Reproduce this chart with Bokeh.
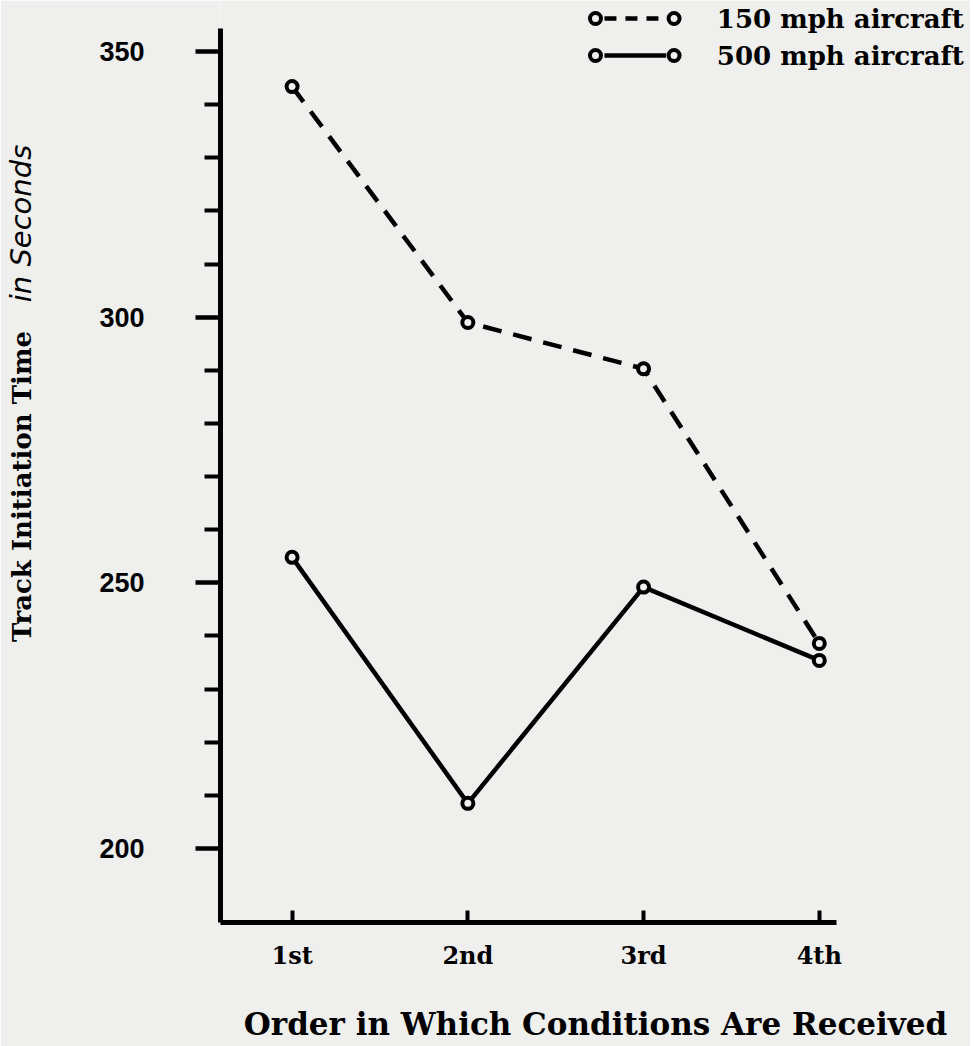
from bokeh.plotting import figure
from bokeh.models import Range1d, FixedTicker, Label, LinearAxis
from bokeh.embed import file_html
from bokeh.resources import INLINE

# ---- data ----
order_pos = [1, 2, 3, 4]
order_labels = ["1st", "2nd", "3rd", "4th"]
time_150 = [343.4, 299.0, 290.3, 238.6]
time_500 = [254.8, 208.5, 249.2, 235.4]
y_major = [200, 250, 300, 350]
y_minor = [210, 220, 230, 240, 260, 270, 280, 290, 310, 320, 330, 340]
series_names = ["150 mph aircraft", "500 mph aircraft"]
x_title = "Order in Which Conditions Are Received"
y_title_typed = "Track Initiation Time"
y_title_hand = "in Seconds"

# ---- layout ----
W, H = 970, 1046
BL = 216
BB = H - 922
FW, FH = W - BL, H - BB
BG = "#efefed"
X0, X1 = 0.5925, 4.8604
Y0, Y1 = 186.07, 359.61


def fx(px):
    return X0 + (px - BL) * (X1 - X0) / FW


def fy(py):
    return Y1 - py * (Y1 - Y0) / FH


p = figure(width=W, height=H, x_range=Range1d(X0, X1), y_range=Range1d(Y0, Y1),
           output_backend="svg", toolbar_location=None,
           min_border_left=BL, min_border_right=0, min_border_top=0,
           min_border_bottom=BB, background_fill_color=BG,
           border_fill_color=BG, outline_line_color=None)
p.xgrid.visible = False
p.ygrid.visible = False

# x axis
xa = p.xaxis[0]
xa.ticker = FixedTicker(ticks=order_pos)
xa.major_label_overrides = {k: v for k, v in zip(order_pos, order_labels)}
xa.bounds = (X0, fx(835))
xa.axis_line_width = 5
xa.major_tick_in = 12
xa.major_tick_out = 0
xa.major_tick_line_width = 4
xa.minor_tick_line_color = None
xa.major_label_standoff = 18
xa.major_label_text_font = "DejaVu Serif"
xa.major_label_text_font_style = "bold"
xa.major_label_text_font_size = "24px"
xa.major_label_text_color = "black"
xa.axis_label = x_title
xa.axis_label_standoff = 33
xa.axis_label_text_font = "DejaVu Serif"
xa.axis_label_text_font_style = "bold"
xa.axis_label_text_font_size = "31px"
xa.axis_label_text_color = "black"

# y axis
ya = p.yaxis[0]
ya.ticker = FixedTicker(ticks=y_major, minor_ticks=y_minor)
ya.bounds = (Y0, fy(28))
ya.axis_line_width = 5
ya.major_tick_out = 25
ya.major_tick_in = 0
ya.major_tick_line_width = 4.5
ya.minor_tick_out = 16
ya.minor_tick_in = 0
ya.minor_tick_line_width = 4
ya.major_label_standoff = 51
ya.major_label_text_font = "Liberation Sans"
ya.major_label_text_font_style = "bold"
ya.major_label_text_font_size = "27px"
ya.major_label_text_color = "black"


def title_axis(text, ypix, font, style, size, standoff):
    ax = LinearAxis(ticker=FixedTicker(ticks=[fy(ypix)], minor_ticks=[]),
                    major_label_overrides={fy(ypix): text},
                    axis_line_color=None, major_tick_line_color=None,
                    minor_tick_line_color=None,
                    major_label_orientation="vertical",
                    major_label_standoff=standoff,
                    major_label_text_font=font,
                    major_label_text_font_style=style,
                    major_label_text_font_size=size,
                    major_label_text_color="black")
    p.add_layout(ax, "left")
    return ax


title_axis(y_title_typed, 486, "DejaVu Serif", "bold", "26px", 54)
title_axis(y_title_hand, 223, "DejaVu Sans", "italic", "29px", -40)

# data lines and markers
p.line(order_pos, time_150, line_color="black", line_width=4.5, line_dash="19 12")
p.line(order_pos, time_500, line_color="black", line_width=4.5)
p.scatter(order_pos, time_150, marker="circle", size=11, line_width=4,
          line_color="black", fill_color=BG)
p.scatter(order_pos, time_500, marker="circle", size=11, line_width=4,
          line_color="black", fill_color=BG)

# legend (drawn by hand like the original)
for row_y, name, dash in [(18, series_names[0], "12 9"), (55, series_names[1], "solid")]:
    p.line([fx(602), fx(664)], [fy(row_y), fy(row_y)], line_color="black",
           line_width=4.5, line_dash=dash)
    p.scatter([fx(593), fx(672)], [fy(row_y), fy(row_y)], marker="circle",
              size=11, line_width=4, line_color="black", fill_color=BG)
    p.add_layout(Label(x=fx(715), y=fy(row_y), text=name, text_align="left",
                       text_baseline="middle", text_font="DejaVu Serif",
                       text_font_style="bold", text_font_size="26px",
                       text_color="black"))

open("out.html", "w").write(file_html(p, INLINE))
